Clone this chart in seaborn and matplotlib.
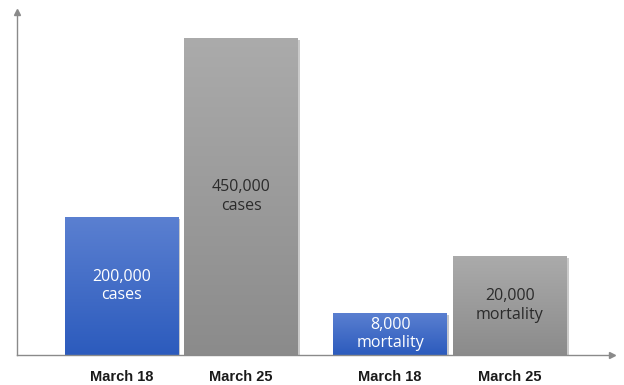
import numpy as np
import pandas as pd
import matplotlib.pyplot as plt
import matplotlib.patheffects as pe
from matplotlib.colors import LinearSegmentedColormap
import seaborn as sns

# Data (bar heights are the drawn heights, not to scale with the labels)
groups = ["cases", "cases", "mortality", "mortality"]
dates = ["March 18", "March 25", "March 18", "March 25"]
values = ["200,000", "450,000", "8,000", "20,000"]
bar_heights = [138, 317, 42, 99]

df = pd.DataFrame({"group": groups, "date": dates, "height": bar_heights})

sns.set_style("white")
plt.rcParams["font.family"] = ["Open Sans", "DejaVu Sans"]

fig = plt.figure(figsize=(6.24, 3.85), dpi=100)
ax = fig.add_axes([0.027, 0.078, 0.954, 0.891])

palette = {"March 18": "#4470c8", "March 25": "#9c9c9c"}
sns.barplot(data=df, x="group", y="height", hue="date", palette=palette,
            width=0.89, gap=0.05, legend=False, ax=ax, zorder=2)

ax.set_xlim(-0.612, 1.604)
ax.set_ylim(0, 343)

# gradient fill + soft shadow on each bar
grads = {
    "March 18": LinearSegmentedColormap.from_list("b", ["#2c5bbd", "#5b80d1"]),
    "March 25": LinearSegmentedColormap.from_list("g", ["#8b8b8b", "#ababab"]),
}
patches = sorted(ax.patches, key=lambda p: p.get_x())
grad = np.linspace(0, 1, 256).reshape(-1, 1)
centers = []
for p, d, v, g in zip(patches, dates, values, groups):
    x0, w, h = p.get_x(), p.get_width(), p.get_height()
    p.set_edgecolor("none")
    p.set_path_effects([pe.SimplePatchShadow(offset=(1.5, -1.5), alpha=0.25), pe.Normal()])
    im = ax.imshow(grad, cmap=grads[d], extent=[x0, x0 + w, 0, h],
                   origin="lower", aspect="auto", zorder=3)
    im.set_clip_path(p)
    cx = x0 + w / 2
    centers.append(cx)
    color = "white" if d == "March 18" else "#2b2b2b"
    ax.text(cx, h / 2, f"{v}\n{g}", ha="center", va="center", color=color,
            fontsize=11.5, linespacing=1.2, zorder=4)

ax.set_xticks(centers)
ax.set_xticklabels(dates, fontsize=10.5, fontweight="bold", color="#1a1a1a",
                   family=["Liberation Sans", "DejaVu Sans"])
ax.tick_params(axis="x", length=0, pad=11)
ax.set_yticks([])
ax.set_xlabel("")
ax.set_ylabel("")

for s in ["top", "right"]:
    ax.spines[s].set_visible(False)
for s in ["left", "bottom"]:
    ax.spines[s].set_color("#8a8a8a")
    ax.spines[s].set_linewidth(1.0)
    ax.spines[s].set_zorder(5)

# arrow heads on the axes
ax.plot(1, 0, ">", color="#8a8a8a", markersize=5, transform=ax.transAxes, clip_on=False, zorder=6)
ax.plot(0, 1, "^", color="#8a8a8a", markersize=5, transform=ax.transAxes, clip_on=False, zorder=6)

fig.savefig("out.png", dpi=100)
